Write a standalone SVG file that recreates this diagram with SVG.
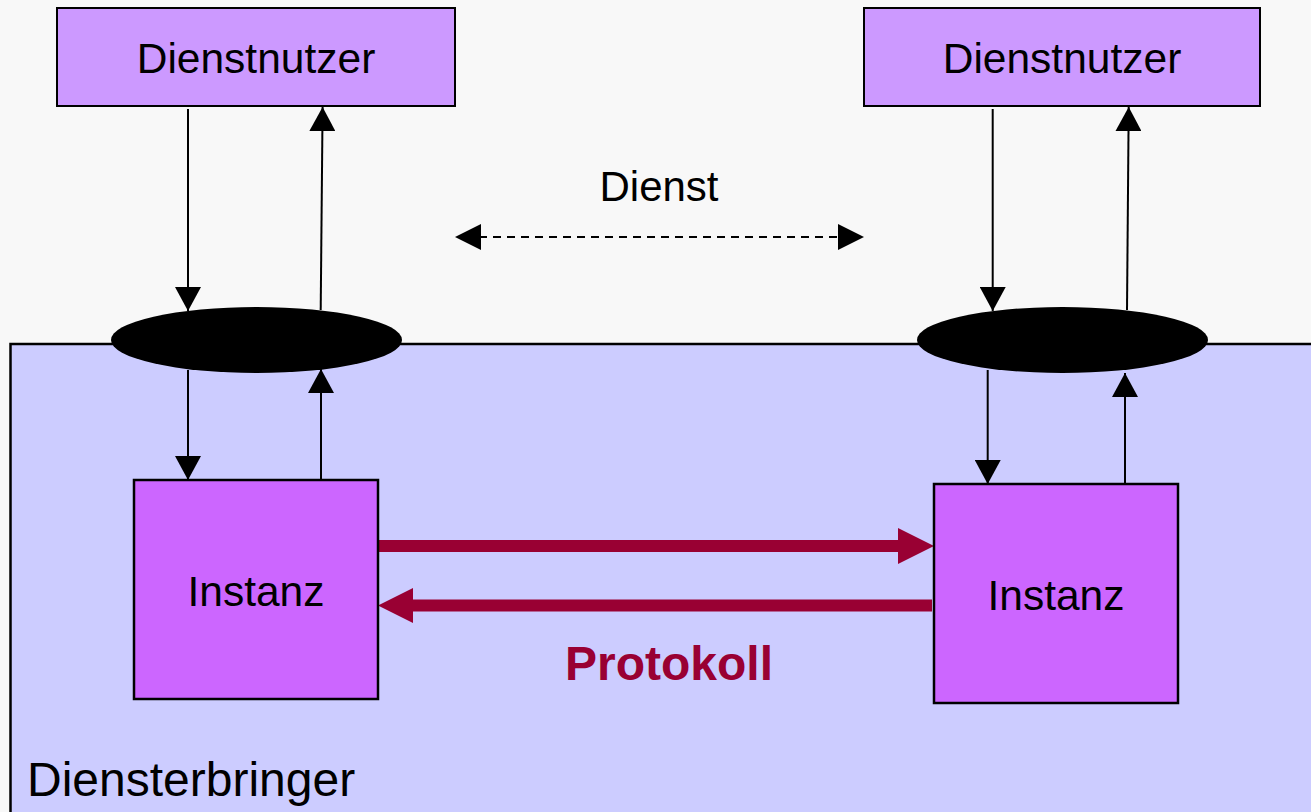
<svg xmlns="http://www.w3.org/2000/svg" width="1311" height="812" viewBox="0 0 1311 812">
  <defs>
    <style>
      .lbl { font-family: "Liberation Sans", Arial, sans-serif; fill: #000; text-anchor: middle; }
      .user { fill: #cc99ff; stroke: #000; stroke-width: 2; }
      .inst { fill: #cc66ff; stroke: #000; stroke-width: 2.5; }
      .sap { fill: #000; }
      .flow { stroke: #000; stroke-width: 2; fill: none; marker-end: url(#head); }
      .svc { stroke: #000; stroke-width: 2; fill: none; stroke-dasharray: 8 6; }
      .proto { stroke: #990033; stroke-width: 12; fill: none; }
      .protohead { fill: #990033; }
    </style>
    <marker id="head" markerUnits="userSpaceOnUse" markerWidth="26" markerHeight="26" refX="24" refY="13" orient="auto" viewBox="0 0 26 26">
      <path d="M0,0 L24,13 L0,26 Z" fill="#000"/>
    </marker>
  </defs>

  <!-- page background -->
  <rect x="0" y="0" width="1311" height="812" fill="#f8f8f8"/>

  <!-- service provider area -->
  <g id="diensterbringer">
    <rect x="10.5" y="344" width="1320" height="490" fill="#ccccff" stroke="#000" stroke-width="2.5"/>
    <text class="lbl" x="27" y="796" font-size="48" style="text-anchor:start">Diensterbringer</text>
  </g>

  <!-- connectors -->
  <g id="connectors">
    <!-- left side -->
    <line class="flow" x1="188" y1="109" x2="188" y2="311"/>
    <line class="flow" x1="320.7" y1="310" x2="322.6" y2="107"/>
    <line class="flow" x1="188" y1="370" x2="188" y2="480"/>
    <line class="flow" x1="321" y1="481" x2="321" y2="369"/>
    <!-- right side -->
    <line class="flow" x1="992.7" y1="109" x2="992.7" y2="311"/>
    <line class="flow" x1="1127" y1="310" x2="1128.7" y2="107"/>
    <line class="flow" x1="987.7" y1="370" x2="987.7" y2="484"/>
    <line class="flow" x1="1125" y1="485" x2="1125" y2="373"/>
    <!-- service (dashed, both directions) -->
    <line class="svc" x1="479" y1="237" x2="840" y2="237"/>
    <path d="M481,224 L455,237 L481,250 Z" fill="#000"/>
    <path d="M838,224 L864,237 L838,250 Z" fill="#000"/>
    <!-- protocol arrows -->
    <line class="proto" x1="379" y1="546" x2="899" y2="546"/>
    <path class="protohead" d="M898,528 L934,546 L898,564 Z"/>
    <line class="proto" x1="412" y1="605.5" x2="932" y2="605.5"/>
    <path class="protohead" d="M413,588 L378,605.5 L413,623 Z"/>
  </g>

  <!-- service access points -->
  <g id="sap-left">
    <ellipse class="sap" cx="256.5" cy="340" rx="145.5" ry="33"/>
  </g>
  <g id="sap-right">
    <ellipse class="sap" cx="1062.5" cy="340" rx="145.5" ry="33"/>
  </g>

  <!-- service users -->
  <g id="dienstnutzer-left">
    <rect class="user" x="57" y="8" width="398" height="98"/>
    <text class="lbl" x="256" y="73" font-size="42.5">Dienstnutzer</text>
  </g>
  <g id="dienstnutzer-right">
    <rect class="user" x="864" y="8" width="396" height="98"/>
    <text class="lbl" x="1062" y="73" font-size="42.5">Dienstnutzer</text>
  </g>

  <!-- protocol entities -->
  <g id="instanz-left">
    <rect class="inst" x="134" y="480" width="244" height="219"/>
    <text class="lbl" x="256" y="606" font-size="42.5">Instanz</text>
  </g>
  <g id="instanz-right">
    <rect class="inst" x="934" y="484" width="244" height="219"/>
    <text class="lbl" x="1056" y="610" font-size="42.5">Instanz</text>
  </g>

  <!-- labels -->
  <g id="dienst-label">
    <text class="lbl" x="659" y="201" font-size="42">Dienst</text>
  </g>
  <g id="protokoll-label">
    <text class="lbl" x="669" y="680" font-size="48" font-weight="bold" style="fill:#990033">Protokoll</text>
  </g>
</svg>
